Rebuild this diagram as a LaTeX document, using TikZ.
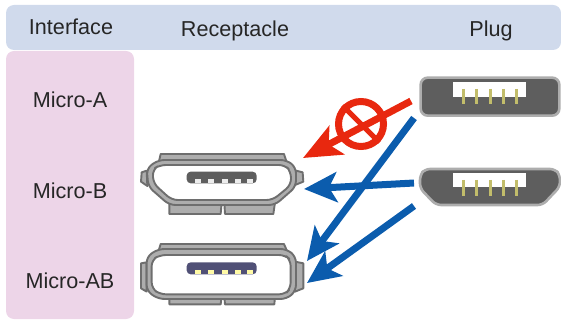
\documentclass[tikz,border=0pt]{standalone}
\usepackage{fontspec}
\setmainfont{Liberation Sans}
\usetikzlibrary{arrows.meta}
\definecolor{headblue}{HTML}{D0DAEC}
\definecolor{sidepink}{HTML}{EDD5E8}
\definecolor{okblue}{HTML}{0B5CAD}
\definecolor{nored}{HTML}{E8280F}
\definecolor{shellgray}{HTML}{6E6E6E}
\definecolor{flangegray}{HTML}{ADADAD}
\definecolor{slotgray}{HTML}{5E5E5E}
\tikzset{
	label/.style={font=\fontsize{21.6}{26}\selectfont, text=black!85},
	okarrow/.style={-{Stealth[length=33pt,width=30pt,inset=8pt]}, line width=7pt, okblue},
	noarrow/.style={-{Stealth[length=38pt,width=32pt,inset=9pt]}, line width=7pt, nored},
	shell/.style={draw=shellgray, line width=1.9pt, fill=flangegray, line join=round},
	pin/.style={line width=3pt, draw=yellow!45!gray}
}
\begin{document}
\begin{tikzpicture}[x=1pt,y=-1pt]
	\useasboundingbox (0,0) rectangle (561,320);
	% Bande di sfondo
	\node[draw=none, fill=headblue, rounded corners=8pt, minimum width=555pt, minimum height=45pt, inner sep=0pt] (header) at (283.5,27.5) {};
	\node[draw=none, fill=sidepink, rounded corners=8pt, minimum width=128pt, minimum height=268pt, inner sep=0pt] (side) at (70,185) {};
	% Etichette
	\node[label] (interface) at (71,27) {Interface};
	\node[label] (receptacle) at (235,31) {Receptacle};
	\node[label] (plug) at (491,31) {Plug};
	\node[label] (microa) at (70,100) {Micro-A};
	\node[label] (microb) at (70,191) {Micro-B};
	\node[label] (microab) at (70,281) {Micro-AB};

	% Presa Micro-B
	\begin{scope}[shift={(130,140)}, x=0.3333pt, y=-0.3333pt]
		\draw[shell] (85,72) -- (92,42) -- (462,42) -- (472,72) -- cycle;
		\draw[shell] (50,92) -- (35,97) -- (33,125) -- (52,138) -- cycle;
		\draw[shell] (490,90) -- (518,97) -- (520,125) -- (495,135) -- cycle;
		\draw[shell] (118,188) -- (118,222) -- (272,222) -- (275,188) -- cycle;
		\draw[shell] (283,188) -- (285,222) -- (430,222) -- (435,188) -- cycle;
		\draw[shell, rounded corners=6pt] (50,85) -- (85,60) -- (470,60) -- (498,82) -- (498,140) -- (435,195) -- (118,195) -- (55,140) -- cycle;
		\draw[shell, fill=white, rounded corners=6pt] (68,88) -- (90,75) -- (465,75) -- (483,95) -- (483,135) -- (428,180) -- (125,180) -- (70,130) -- cycle;
		\fill[slotgray, rounded corners=4pt] (170,95) rectangle (380,130);
		\foreach \x in {195,235,275,315,350} \fill[white!85!gray] (\x,116) rectangle (\x+18,130);
	\end{scope}

	% Presa Micro-AB
	\begin{scope}[shift={(130,235)}, x=0.3333pt, y=-0.3333pt]
		\draw[shell] (85,50) -- (92,27) -- (462,27) -- (472,50) -- cycle;
		\draw[shell] (50,82) -- (33,85) -- (33,160) -- (50,170) -- cycle;
		\draw[shell] (495,80) -- (520,85) -- (520,160) -- (495,170) -- cycle;
		\draw[shell] (118,185) -- (118,208) -- (272,208) -- (275,185) -- cycle;
		\draw[shell] (283,185) -- (285,208) -- (433,208) -- (435,185) -- cycle;
		\draw[shell, rounded corners=6pt] (50,65) -- (85,42) -- (470,42) -- (498,65) -- (498,168) -- (470,192) -- (85,192) -- (50,168) -- cycle;
		\draw[shell, fill=white, rounded corners=6pt] (65,75) -- (90,60) -- (465,60) -- (482,75) -- (482,160) -- (465,178) -- (90,178) -- (65,160) -- cycle;
		\fill[slotgray!85!blue, rounded corners=4pt] (170,82) rectangle (380,118);
		\foreach \x in {195,235,275,315,350} \fill[yellow!35] (\x,104) rectangle (\x+18,118);
	\end{scope}

	% Spina Micro-A
	\begin{scope}[shift={(400,65)}, x=0.3333pt, y=-0.3333pt]
		\draw[draw=flangegray, line width=2.6pt, fill=slotgray, rounded corners=7pt] (62,38) rectangle (478,152);
		\fill[white] (160,50) rectangle (378,95);
		\foreach \x in {190,230,270,310,350} \draw[pin] (\x,72) -- (\x,118);
	\end{scope}

	% Spina Micro-B
	\begin{scope}[shift={(400,155)}, x=0.3333pt, y=-0.3333pt]
		\draw[draw=flangegray, line width=2.6pt, fill=slotgray, rounded corners=5pt] (60,60) -- (75,42) -- (465,42) -- (480,60) -- (480,95) -- (428,150) -- (108,150) -- (60,100) -- cycle;
		\fill[white] (160,55) rectangle (378,95);
		\foreach \x in {190,230,270,310,350} \draw[pin] (\x,75) -- (\x,122);
	\end{scope}

	% Estremi delle frecce
	\coordinate (plugaout) at (411,101);
	\coordinate (plugaok) at (414,118);
	\coordinate (plugbout) at (414,183);
	\coordinate (plugbok) at (414,206);
	\coordinate (recbno) at (303,158);
	\coordinate (recbin) at (304,189);
	\coordinate (recabtop) at (307,261);
	\coordinate (recabin) at (307,283);

	% Frecce
	\draw[okarrow] (plugaok) -- (recabtop);
	\draw[okarrow] (plugbout) -- (recbin);
	\draw[okarrow] (plugbok) -- (recabin);
	\draw[noarrow] (plugaout) -- (recbno);
	\node[circle, draw=nored, line width=7pt, minimum size=45pt, inner sep=0pt] (stop) at (361,124) {};
	\draw[nored, line width=5pt] (stop.north west) -- (stop.south east);
\end{tikzpicture}
\end{document}
